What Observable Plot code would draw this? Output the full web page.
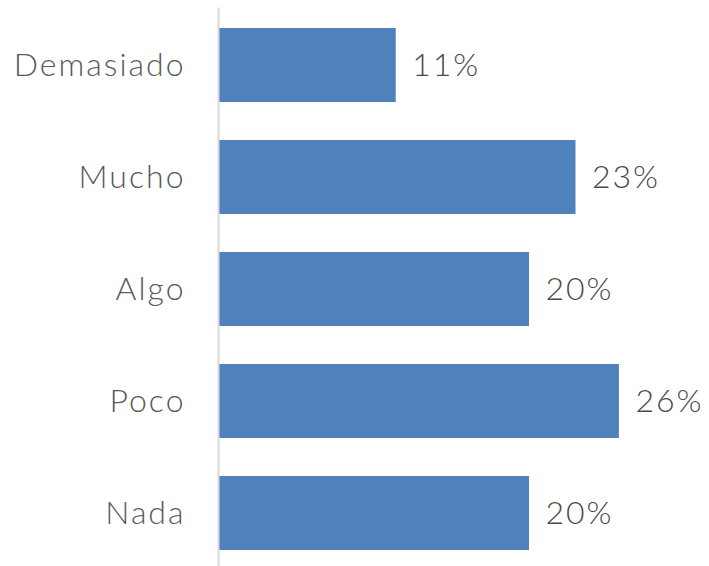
<!DOCTYPE html>
<html>
<head>
<meta charset="utf-8">
<script src="https://cdn.jsdelivr.net/npm/d3@7"></script>
<script src="https://cdn.jsdelivr.net/npm/@observablehq/plot@0.6"></script>
<style>
  html, body { margin: 0; padding: 0; background: #fff; }
  #chart svg { display: block; }
  #chart svg text { letter-spacing: 2px; }
</style>
</head>
<body>
<div id="chart"></div>
<script>
const categories = ["Demasiado", "Mucho", "Algo", "Poco", "Nada"];
const values = [11.4, 23.0, 20.0, 25.8, 20.0];
const labels = ["11%", "23%", "20%", "26%", "20%"];

const data = categories.map((c, i) => ({category: c, value: values[i], label: labels[i]}));

const font = "Lato, 'Noto Sans', sans-serif";

const chart = Plot.plot({
  width: 709,
  height: 566,
  marginLeft: 219,
  marginRight: 9.5,
  marginTop: 7.6,
  marginBottom: 0,
  style: {fontFamily: font, background: "#fff"},
  x: {domain: [0, 31], axis: null},
  y: {domain: categories, range: [7.6, 571.4], paddingInner: 0.335, paddingOuter: 0.1675, label: null},
  marks: [
    Plot.barX(data, {y: "category", x: "value", fill: "#4f81bd"}),
    Plot.ruleX([0], {stroke: "#d9d9d9", strokeWidth: 2, dx: -1}),
    Plot.text(data, {
      y: "category", x: "value", text: "label",
      textAnchor: "start", dx: 16, fill: "#4a4a4a",
      fontSize: 32, fontWeight: 300
    }),
    Plot.axisY({
      tickSize: 0, tickPadding: 34, label: null,
      fontSize: 32, fontWeight: 300, fill: "#595959"
    })
  ]
});
document.getElementById("chart").appendChild(chart);
</script>
</body>
</html>
